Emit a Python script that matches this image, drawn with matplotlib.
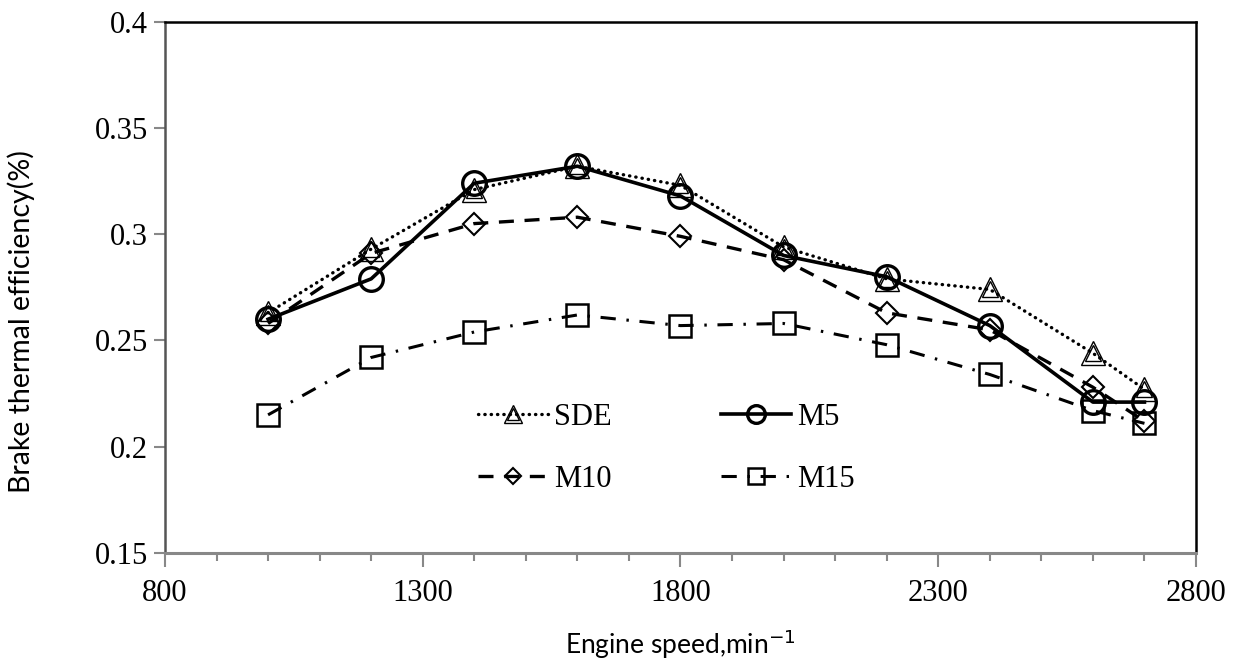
import numpy as np
import matplotlib
matplotlib.use("Agg")
import matplotlib.pyplot as plt
from matplotlib.legend_handler import HandlerTuple
from matplotlib.ticker import MultipleLocator

# --- data ---
speed = [1000, 1200, 1400, 1600, 1800, 2000, 2200, 2400, 2600, 2700]
sde = [0.263, 0.293, 0.321, 0.332, 0.323, 0.294, 0.279, 0.274, 0.244, 0.227]
m5 = [0.260, 0.279, 0.324, 0.332, 0.318, 0.290, 0.280, 0.257, 0.221, 0.221]
m10 = [0.258, 0.291, 0.305, 0.308, 0.299, 0.288, 0.263, 0.255, 0.228, 0.212]
m15 = [0.215, 0.242, 0.254, 0.262, 0.257, 0.258, 0.248, 0.234, 0.217, 0.211]
labels = ["SDE", "M5", "M10", "M15"]
x_ticks = [800, 1300, 1800, 2300, 2800]
y_ticks = [0.15, 0.2, 0.25, 0.3, 0.35, 0.4]
y_ticklabels = ["0.15", "0.2", "0.25", "0.3", "0.35", "0.4"]

serif = "Liberation Serif"
sans = "Lato"

fig = plt.figure(figsize=(12.33, 6.66), dpi=100)
ax = fig.add_axes([0.1338, 0.1697, 0.8362, 0.7977])

# SDE: dotted with double-outline triangle
l_sde, = ax.plot(speed, sde, color="black", lw=2.4, linestyle=(0, (0.1, 1.8)),
                 dash_capstyle="round", marker="^", ms=17, mfc="none",
                 mec="black", mew=1.0, zorder=2)
l_sde_in, = ax.plot(speed, sde, linestyle="none", marker="^", ms=12,
                    mfc="none", mec="black", mew=1.0, zorder=2)
# M5: solid with circle
l_m5, = ax.plot(speed, m5, color="black", lw=2.6, linestyle="-",
                marker="o", ms=17, mfc="none", mec="black", mew=2.4, zorder=4)
# M10: dashed with diamond
l_m10, = ax.plot(speed, m10, color="black", lw=2.4, linestyle=(0, (4.5, 3.2)),
                 marker="D", ms=11.5, mfc="none", mec="black", mew=1.5, zorder=3)
# M15: dash-dot with square
l_m15, = ax.plot(speed, m15, color="black", lw=2.2,
                 linestyle=(0, (5, 3.5, 0.8, 3.5)),
                 marker="s", ms=16, mfc="none", mec="black", mew=1.8, zorder=3)

ax.set_xlim(800, 2800)
ax.set_ylim(0.15, 0.4)
ax.set_xticks(x_ticks)
ax.xaxis.set_minor_locator(MultipleLocator(100))
ax.set_yticks(y_ticks)
ax.set_yticklabels(y_ticklabels)

ax.tick_params(axis="x", which="major", direction="out", length=10, width=1.5,
               color="#888888", pad=9, labelsize=22)
ax.tick_params(axis="x", which="minor", direction="out", length=6, width=1.5,
               color="#888888")
ax.tick_params(axis="y", which="major", direction="out", length=8, width=1.5,
               color="#888888", pad=4, labelsize=22)
for lab in ax.get_xticklabels() + ax.get_yticklabels():
    lab.set_fontfamily(serif)

for side in ["top", "right"]:
    ax.spines[side].set_color("black")
    ax.spines[side].set_linewidth(1.8)
ax.spines["left"].set_color("#555555")
ax.spines["left"].set_linewidth(1.8)
ax.spines["bottom"].set_color("#888888")
ax.spines["bottom"].set_linewidth(2.2)

ax.set_xlabel("Engine speed,min$^{-1}$", fontfamily=sans, fontsize=19, labelpad=14)
ax.set_ylabel("Brake thermal efficiency(%)", fontfamily=sans, fontsize=20.5)
ax.yaxis.set_label_coords(-0.126, 0.435)

# ncol=2 fills column-wise, so order gives rows SDE|M5 and M10|M15
leg = ax.legend([(l_sde, l_sde_in), l_m10, l_m5, l_m15],
                [labels[0], labels[2], labels[1], labels[3]],
                handler_map={tuple: HandlerTuple(ndivide=1)},
                ncol=2, frameon=False, loc="upper left",
                bbox_to_anchor=(0.277, 0.335), handlelength=2.3,
                handletextpad=0.2, columnspacing=3.55, labelspacing=1.1,
                markerscale=0.75, prop={"family": serif, "size": 22})

fig.savefig("out.png", dpi=100)
